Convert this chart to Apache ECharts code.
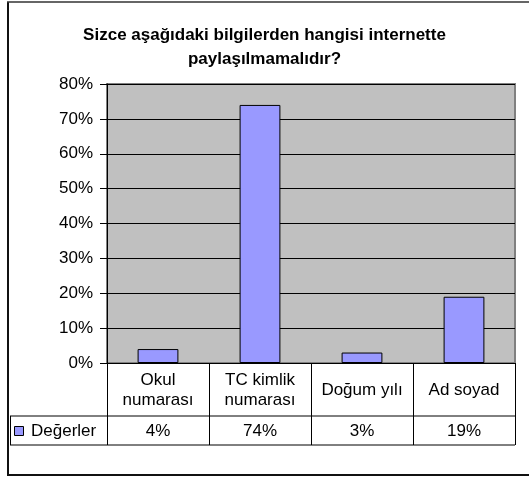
<!DOCTYPE html>
<html>
<head>
<meta charset="utf-8">
<script src="https://cdn.jsdelivr.net/npm/echarts@6/dist/echarts.min.js"></script>
<style>
html,body{margin:0;padding:0;background:#fff;}
#chart{width:529px;height:478px;}
</style>
</head>
<body>
<div id="chart"></div>
<script>
var titleText = 'Sizce aşağıdaki bilgilerden hangisi internette\npaylaşılmamalıdır?';
var categories = ['Okul\nnumarası', 'TC kimlik\nnumarası', 'Doğum yılı', 'Ad soyad'];
var seriesName = 'Değerler';
var values = [0.04, 0.74, 0.03, 0.19];
var valueLabels = ['4%', '74%', '3%', '19%'];
var yTicks = [0, 0.1, 0.2, 0.3, 0.4, 0.5, 0.6, 0.7, 0.8];

var FONT = '"Liberation Sans", Arial, sans-serif';
var G = {left: 107, right: 14, top: 84, bottom: 115};
var W = 529, H = 478;
var plotRight = W - G.right;
var axisY = H - G.bottom;
var row1 = 53, row2 = 29;

var chart = echarts.init(document.getElementById('chart'), null, {renderer: 'canvas'});
chart.setOption({
  animation: false,
  backgroundColor: '#fff',
  title: {
    text: titleText,
    left: 'center',
    top: 18,
    textStyle: {fontFamily: FONT, fontSize: 17, fontWeight: 'bold', color: '#000', lineHeight: 24}
  },
  grid: {
    left: G.left, right: G.right, top: G.top, bottom: G.bottom,
    show: true, backgroundColor: '#C0C0C0', borderColor: '#808080', borderWidth: 2
  },
  xAxis: [{
    type: 'category',
    data: categories,
    axisLine: {show: true, lineStyle: {color: '#000', width: 1}},
    axisTick: {show: true, length: row1 + row2, lineStyle: {color: '#000', width: 1}},
    axisLabel: {interval: 0, margin: 27, verticalAlign: 'middle', lineHeight: 20,
      fontFamily: FONT, fontSize: 17, color: '#000'},
    splitLine: {show: false}
  }, {
    type: 'category',
    position: 'bottom',
    data: valueLabels,
    axisLine: {show: false},
    axisTick: {show: false},
    axisLabel: {interval: 0, margin: row1 + row2 / 2 + 0.5, verticalAlign: 'middle',
      fontFamily: FONT, fontSize: 17, color: '#000'},
    splitLine: {show: false}
  }],
  yAxis: {
    type: 'value',
    min: yTicks[0], max: yTicks[yTicks.length - 1], interval: 0.1,
    axisLine: {show: true, lineStyle: {color: '#000', width: 1}},
    axisTick: {show: true, length: 7, lineStyle: {color: '#000'}},
    axisLabel: {margin: 14, fontFamily: FONT, fontSize: 17, color: '#000',
      formatter: function (v) { return Math.round(v * 100) + '%'; }},
    splitLine: {show: true, lineStyle: {color: '#000', width: 1}}
  },
  series: [{
    name: seriesName,
    type: 'bar',
    xAxisIndex: 0,
    data: values,
    barWidth: '40%',
    itemStyle: {color: '#9999FF', borderColor: '#000', borderWidth: 1}
  }],
  graphic: [
    {type: 'line', shape: {x1: 10, y1: axisY + row1, x2: plotRight, y2: axisY + row1}, style: {stroke: '#000', lineWidth: 1}},
    {type: 'line', shape: {x1: 10, y1: axisY + row1 + row2, x2: plotRight, y2: axisY + row1 + row2}, style: {stroke: '#000', lineWidth: 1}},
    {type: 'line', shape: {x1: 10.5, y1: axisY + row1, x2: 10.5, y2: axisY + row1 + row2}, style: {stroke: '#000', lineWidth: 1}},
    {type: 'rect', shape: {x: 14.5, y: axisY + row1 + 10.5, width: 9, height: 9}, style: {fill: '#9999FF', stroke: '#000', lineWidth: 1}},
    {type: 'text', x: 31, y: axisY + row1 + row2 / 2 + 0.5, style: {text: seriesName, font: '17px ' + FONT, fill: '#000', textVerticalAlign: 'middle', verticalAlign: 'middle'}},
    {type: 'line', shape: {x1: 8, y1: 2, x2: 8, y2: 475}, style: {stroke: '#111', lineWidth: 2}},
    {type: 'line', shape: {x1: 7, y1: 2, x2: W, y2: 2}, style: {stroke: '#333', lineWidth: 1.5}},
    {type: 'line', shape: {x1: 7, y1: 475, x2: W, y2: 475}, style: {stroke: '#111', lineWidth: 2}}
  ]
});
</script>
</body>
</html>
